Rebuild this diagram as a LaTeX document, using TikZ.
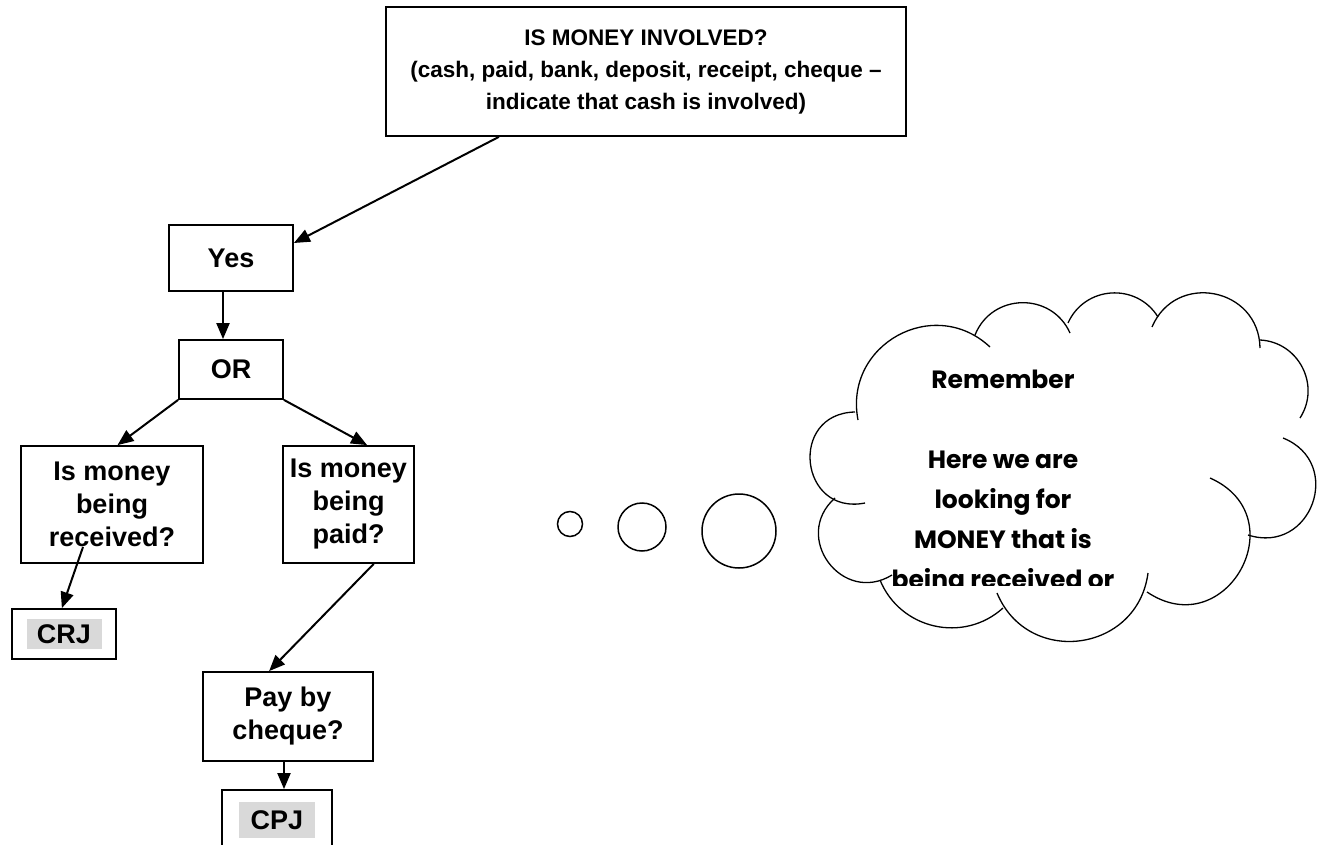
\documentclass[tikz,border=0pt]{standalone}
\usepackage{fontspec}
\setmainfont{Liberation Sans}
\newfontfamily\cloudfont{Poppins}
\usetikzlibrary{arrows.meta,calc,positioning}

% one puff of the thought cloud: bend, looseness, start, end
\newcommand{\puff}[4]{%
  \draw[cloud line] (#3) to[bend left=#1, looseness=#2] (#4);}

\begin{document}
\begin{tikzpicture}[x=1pt,y=-1pt]

        % Setup the styles
        \tikzset{box/.style={draw, line width=1.8pt, inner sep=0pt, align=center,
                             font=\bfseries\fontsize{27}{33}\selectfont},
                 hilite/.style={fill=black!15, inner sep=0pt,
                                font=\bfseries\fontsize{27}{33}\selectfont},
                 bubble/.style={circle, draw, line width=1.5pt, inner sep=0pt},
                 cloud line/.style={line width=1.3pt}}

        \clip (0,0) rectangle (1317,845);

        % Draw the boxes
        \node[box, minimum width=520, minimum height=129,
              font=\bfseries\fontsize{22.5}{32}\selectfont] at (646,71.5) (money)
             {IS MONEY INVOLVED?\\(cash, paid, bank, deposit, receipt, cheque –\\indicate that cash is involved)};
        \node[box, minimum width=124, minimum height=66]  at (231,258)     (yes)    {Yes};
        \node[box, minimum width=104, minimum height=59]  at (231,369.5)   (or)     {OR};
        \node[box, minimum width=182, minimum height=117] at (112,504.5)   (recv)   {Is money\\being\\received?};
        \node[box, minimum width=131, minimum height=117] at (348.5,504.5) (paid)   {Is money\\being\\paid?};
        \node[box, minimum width=104, minimum height=50]  at (64,634)      (crj)    {};
        \node[hilite, minimum width=75, minimum height=30] at (crj)        (crjtxt) {CRJ};
        \node[box, minimum width=170, minimum height=89]  at (288,716.5)   (cheque) {Pay by\\cheque?};
        \node[box, minimum width=110, minimum height=90]  at (277,835)     (cpj)    {};
        \node[hilite, minimum width=76, minimum height=36] at (277,820)    (cpjtxt) {CPJ};

        \coordinate (rstart) at (83,547);

        % Connect the boxes with arrows
        \path[line width=2pt, -{Triangle[length=16pt,width=13pt]}]
            ($(money.south west)!0.218!(money.south east)$) edge ([yshift=15pt]yes.east)
            ([xshift=-8pt]yes.south) edge ([xshift=-8pt]or.north)
            (or.south west) edge ($(recv.north west)!0.53!(recv.north east)$)
            (or.south east) edge ($(paid.north west)!0.64!(paid.north east)$)
            (rstart) edge ($(crj.north west)!0.48!(crj.north east)$)
            ($(paid.south west)!0.69!(paid.south east)$) edge ($(cheque.north west)!0.39!(cheque.north east)$)
            ([xshift=-4pt]cheque.south) edge ([xshift=-4pt]cheque.south |- cpj.north);

        % Thought bubbles
        \node[bubble, minimum size=25] at (570,524) (bubbleS) {};
        \node[bubble, minimum size=48] at (642,527) (bubbleM) {};
        \node[bubble, minimum size=74] at (739,531) (bubbleL) {};

        % The cloud
        \puff{72}{1.30}{858,420}{990,347}
        \puff{67}{1.22}{975,335}{1070,333}
        \puff{62}{1.16}{1068,323}{1158,317}
        \puff{78}{1.41}{1152,327}{1260,348}
        \puff{60}{1.13}{1260,340}{1300,418}
        \puff{88}{1.65}{1283,438}{1248,535}
        \puff{95}{1.87}{1210,478}{1147,592}
        \puff{75}{1.35}{1148,573}{997,593}
        \puff{55}{1.08}{1003,608}{880,580}
        \puff{85}{1.56}{892,575}{835,498}
        \puff{95}{1.87}{865,503}{855,412}

        \begin{scope}
            \clip (820,300) rectangle (1300,585);
            \node[anchor=north, align=center, inner sep=0pt,
                  font=\cloudfont\bfseries\fontsize{25}{40}\selectfont] at (1003,370) (note)
                 {Remember\\[40pt]Here we are\\looking for\\MONEY that is\\being received or};
        \end{scope}
\end{tikzpicture}
\end{document}
